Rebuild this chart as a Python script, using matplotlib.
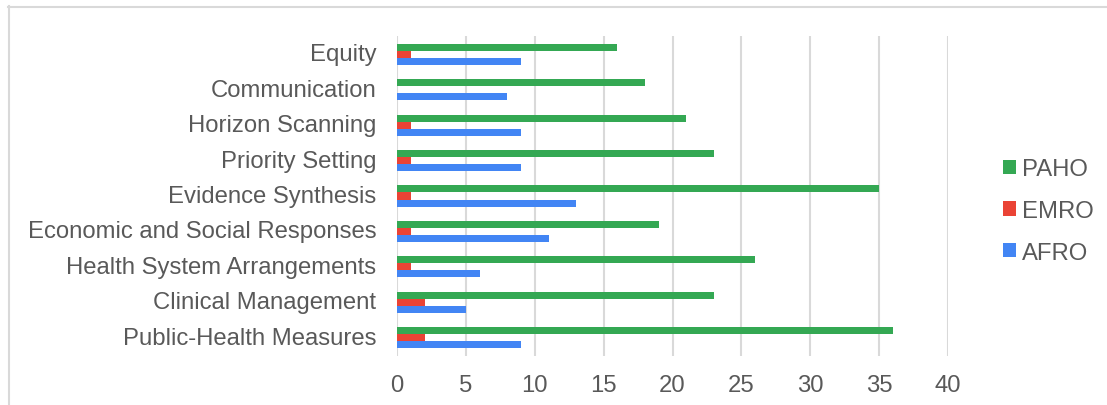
import matplotlib
matplotlib.use("Agg")
import matplotlib.pyplot as plt
from matplotlib.lines import Line2D
from matplotlib.patches import Patch
import numpy as np

categories = ["Public-Health Measures", "Clinical Management", "Health System Arrangements",
              "Economic and Social Responses", "Evidence Synthesis", "Priority Setting",
              "Horizon Scanning", "Communication", "Equity"]
afro = [9, 5, 6, 11, 13, 9, 9, 8, 9]
emro = [2, 2, 1, 1, 1, 1, 1, 0, 1]
paho = [36, 23, 26, 19, 35, 23, 21, 18, 16]
series_names = ["AFRO", "EMRO", "PAHO"]
xticks = [0, 5, 10, 15, 20, 25, 30, 35, 40]

colors = {"AFRO": "#4285F4", "EMRO": "#EA4335", "PAHO": "#34A853"}
text_color = "#595959"
plt.rcParams['font.family'] = ['Liberation Sans', 'DejaVu Sans']
fs = 17.2

fig = plt.figure(figsize=(11.07, 4.06), dpi=100)
ax = fig.add_axes([397/1107, 1-357/406, (948-397)/1107, (357-37)/406])

y = np.arange(len(categories))
h = 0.2
ax.barh(y - h, afro, height=h, color=colors["AFRO"], zorder=3)
ax.barh(y, emro, height=h, color=colors["EMRO"], zorder=3)
ax.barh(y + h, paho, height=h, color=colors["PAHO"], zorder=3)

ax.set_xlim(0, 40)
ax.set_ylim(-0.52, 8.52)
ax.set_xticks(xticks)
ax.set_yticks(y)
ax.set_yticklabels(categories)
ax.tick_params(axis='both', length=0, labelsize=fs, labelcolor=text_color)
ax.tick_params(axis='x', pad=13)
ax.tick_params(axis='y', pad=15)
for lab in ax.get_yticklabels():
    lab.set_va('center')
for s in ax.spines.values():
    s.set_visible(False)
ax.grid(axis='x', color='#D9D9D9', linewidth=1.5, zorder=0)
ax.set_axisbelow(True)

handles = [Patch(facecolor=colors[n], edgecolor='none') for n in ["PAHO", "EMRO", "AFRO"]]
fig.legend(handles, ["PAHO", "EMRO", "AFRO"], loc='center left',
           bbox_to_anchor=(981/1107, 1-212/406), frameon=False,
           fontsize=fs, labelcolor=text_color, handlelength=0.55, handleheight=0.55,
           handletextpad=0.25, labelspacing=0.82)

# figure border (top and left only visible)
fig.add_artist(Line2D([8/1107, 1.0], [1-7.5/406, 1-7.5/406], transform=fig.transFigure,
                      color='#D9D9D9', linewidth=1.5))
fig.add_artist(Line2D([8.5/1107, 8.5/1107], [0, 1-7/406], transform=fig.transFigure,
                      color='#D9D9D9', linewidth=1.5))

fig.savefig("out.png", dpi=100)
